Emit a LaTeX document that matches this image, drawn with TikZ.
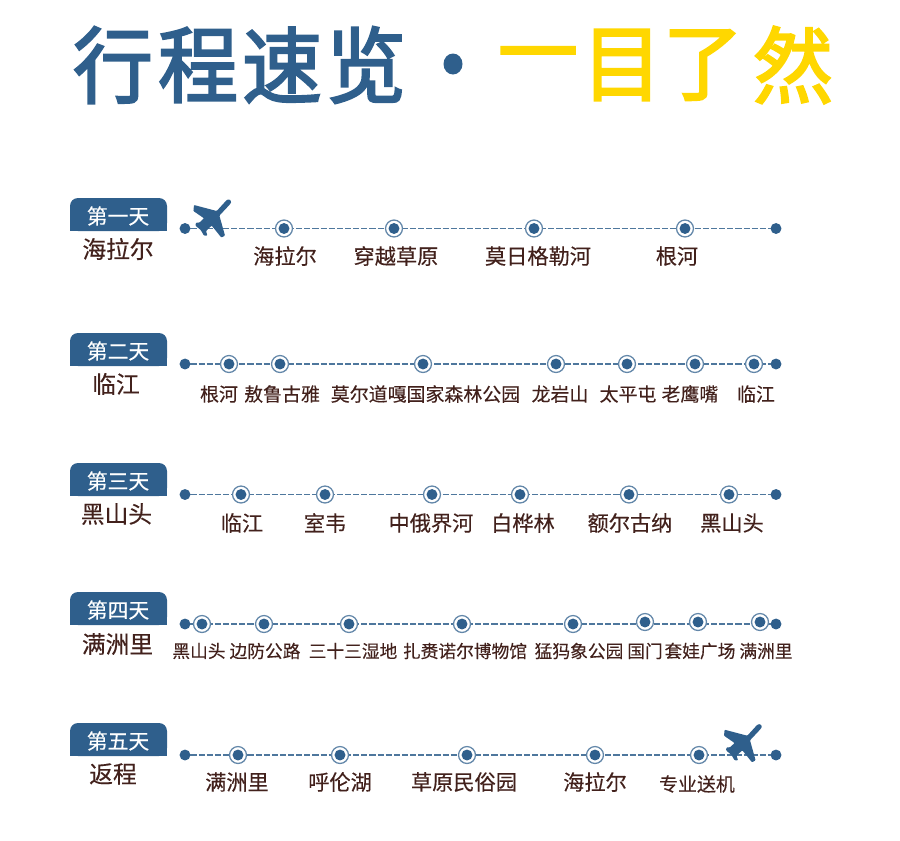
\documentclass[tikz,border=0pt]{standalone}
\usepackage{fontspec}
\setmainfont{Noto Sans CJK SC}
\newfontfamily\titlefont[FakeBold=2.6]{Noto Sans CJK SC}
\newfontfamily\bodyfont[FakeBold=0.25]{Noto Sans CJK SC}
\definecolor{navy}{HTML}{2F5F8C}
\definecolor{gold}{HTML}{FFD700}
\definecolor{ink}{HTML}{42211C}
\tikzset{
  every node/.style={inner sep=0pt,outer sep=0pt},
  dayline/.style={draw=navy!85!white,line width=1pt,dash pattern=on 4.6pt off 1.5pt},
  endpoint/.style={circle,fill=navy,minimum size=8.2pt},
  station/.style={circle,draw=navy!75!white,line width=0.95pt,fill=white,minimum size=12.7pt,
    path picture={\fill[navy] (path picture bounding box.center) circle (4.1pt);}},
  tabbox/.style={fill=navy},
  tabtext/.style={text=white,font=\bodyfont\fontsize{15.6pt}{16pt}\selectfont},
  citytext/.style={text=ink,font=\bodyfont\fontsize{17.8pt}{18pt}\selectfont},
  stop/.style={text=ink,font=\bodyfont\fontsize{15.9pt}{16pt}\selectfont},
  stopmid/.style={text=ink,font=\bodyfont\fontsize{14.2pt}{15pt}\selectfont},
  stopsmall/.style={text=ink,font=\bodyfont\fontsize{13.3pt}{14pt}\selectfont},
  titleA/.style={text=navy,font=\titlefont\fontsize{60pt}{62pt}\selectfont,anchor=center,yscale=1.04},
  titleB/.style={text=gold,font=\titlefont\fontsize{60pt}{62pt}\selectfont,anchor=center,yscale=1.04},
  plane/.pic={\fill[navy,rounded corners=0.6pt] (15,-18.3)--(17.7,-19)--(19.7,-16.7)--(18.3,-14)--(7.7,-2.7)--(13.3,17.3)--(9.7,19.3)--(0,7.3)--(-5.7,12.7)--(-4.3,17.3)--(-7.7,17.3)--(-11,11.7)--(-16.3,7.3)--(-15.7,4.3)--(-12.3,4.3)--(-7.7,0)--(-18.3,-7.3)--(-17.7,-13.3)--(5,-7.3)--cycle;}
}
\begin{document}
\begin{tikzpicture}[x=0.75pt,y=-0.75pt]
\useasboundingbox (0,0) rectangle (900,840);
% title
\node[titleA] (t1) at (113,65) {行};
\node[titleA] (t2) at (198,65) {程};
\node[titleA] (t3) at (282,65) {速};
\node[titleA] (t4) at (366,65) {览};
\fill[navy] (453,64) ellipse (9.5 and 10.5);
\node[titleB] (t5) at (538,65) {一};
\node[titleB] (t6) at (622,65) {目};
\node[titleB] (t7) at (703,65) {了};
\node[titleB] (t8) at (793,65) {然};
% tabs
\foreach \n/\ty/\day/\cx/\cy/\city in {1/198/第一天/118/249/海拉尔,2/333/第二天/116/384/临江,3/463/第三天/116.5/514/黑山头,4/592/第四天/117.5/644/满洲里,5/723/第五天/113/774/返程}{
  \fill[tabbox,rounded corners=6pt] (70,\ty+33) -- (70,\ty) -- (167,\ty) -- (167,\ty+33) -- cycle;
  \fill[tabbox] (70,\ty+20) rectangle (167,\ty+33);
  \node[tabtext] (tab\n) at (118,\ty+18) {\day};
  \node[citytext] (city\n) at (\cx,\cy) {\city};
}
% lines
\foreach \n/\y in {1/228.5,2/364,3/494.5,4/624,5/755}{
  \node[endpoint] (s\n) at (185,\y) {};
  \node[endpoint] (e\n) at (776,\y) {};
  \draw[dayline] (s\n) -- (e\n);
}
% stations row 1
\foreach \i/\x in {1/284,2/394,3/534,4/685}{\node[station] (a\i) at (\x,228.5) {};}
\foreach \x/\t in {285/海拉尔,396/穿越草原,538/莫日格勒河,677/根河}{\node[stop] at (\x,256) {\t};}
% row 2
\foreach \i/\x in {1/229,2/280,3/423,4/556,5/627,6/695,7/754}{\node[station] (b\i) at (\x,364) {};}
\foreach \x/\t in {219/根河,282/敖鲁古雅,425.5/莫尔道嘎国家森林公园,560/龙岩山,628/太平屯,690/老鹰嘴,756/临江}{\node[stopmid] at (\x,394) {\t};}
% row 3
\foreach \i/\x in {1/241,2/325,3/432,4/520,5/629,6/729}{\node[station] (c\i) at (\x,494.5) {};}
\foreach \x/\t in {242/临江,325/室韦,431/中俄界河,523/白桦林,630/额尔古纳,732/黑山头}{\node[stop] at (\x,523) {\t};}
% row 4
\foreach \i/\x/\y in {1/202/624,2/264/624,3/349/624,4/462/624,5/573/624,6/645/622,7/698/622,8/760/622}{\node[station] (d\i) at (\x,\y) {};}
\foreach \x/\t in {199/黑山头,265/边防公路,353/三十三湿地,465/扎赉诺尔博物馆,579/猛犸象公园,645/国门,700/套娃广场,766/满洲里}{\node[stopsmall] at (\x,651) {\t};}
% row 5
\foreach \i/\x in {1/238,2/340,3/467,4/595,5/699}{\node[station] (f\i) at (\x,755) {};}
\foreach \x/\t in {237/满洲里,340/呼伦湖,464/草原民俗园,595/海拉尔}{\node[stop] at (\x,782) {\t};}
\node[stopmid] at (697,784) {专业送机};
% planes
\pic at (211.7,218.3) {plane};
\pic at (742.3,743) {plane};
\end{tikzpicture}
\end{document}
